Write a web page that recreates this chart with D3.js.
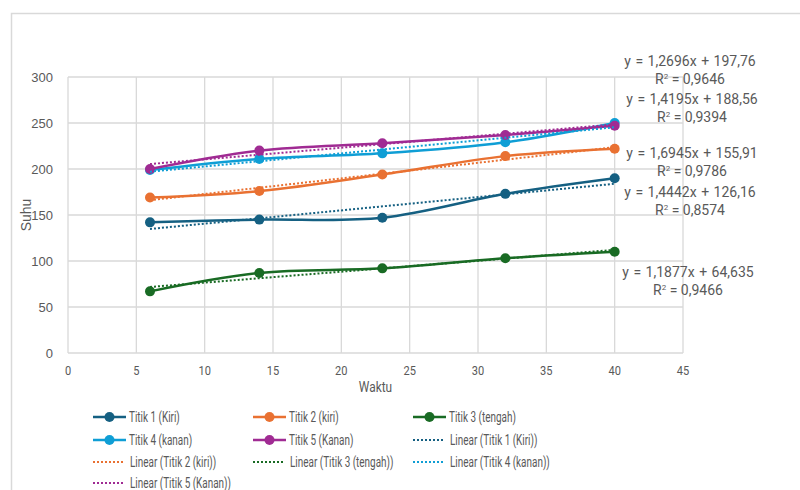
<!DOCTYPE html>
<html>
<head>
<meta charset="utf-8">
<script src="https://d3js.org/d3.v7.min.js"></script>
<style>
    body { margin: 0; background: #fff; }
    text { font-family: Roboto, "Liberation Sans", sans-serif; fill: #595959; }
    .arial { font-family: "Liberation Sans", Arial, sans-serif; }
</style>
</head>
<body>
<script>
    // data
    var waktu = [6, 14, 23, 32, 40];
    var titik1 = [142, 145, 147, 173, 190];
    var titik2 = [169, 176, 194, 214, 222];
    var titik3 = [67, 87, 92, 103, 110];
    var titik4 = [199, 211, 217, 229, 250];
    var titik5 = [200, 220, 228, 237, 247];

    var seriesNames = ["Titik 1 (Kiri)", "Titik 2 (kiri)", "Titik 3 (tengah)", "Titik 4 (kanan)", "Titik 5 (Kanan)"];
    var seriesColors = ["#156082", "#E97132", "#196B24", "#0F9ED5", "#A02B93"];
    // trendline equations as shown (slope, intercept, R2)
    var slopes = [1.4442, 1.6945, 1.1877, 1.4195, 1.2696];
    var intercepts = [126.16, 155.91, 64.635, 188.56, 197.76];
    var r2 = [0.8574, 0.9786, 0.9466, 0.9394, 0.9646];
    var xTicks = [0, 5, 10, 15, 20, 25, 30, 35, 40, 45];
    var yTicks = [0, 50, 100, 150, 200, 250, 300];

    var allValues = [titik1, titik2, titik3, titik4, titik5];

    var width = 800, height = 490;
    var svg = d3.select("body").append("svg")
        .attr("width", width)
        .attr("height", height);

    // the original font is narrower than anything installed, so squeeze text a bit
    function squeeze(sel, k) {
        sel.each(function () {
            var w = this.getComputedTextLength();
            d3.select(this).attr("textLength", w * k).attr("lengthAdjust", "spacingAndGlyphs");
        });
    }

    // chart border
    svg.append("rect")
        .attr("x", 11.5).attr("y", 13.5)
        .attr("width", 820).attr("height", 500)
        .attr("fill", "none")
        .attr("stroke", "#d9d9d9")
        .attr("stroke-width", 1.5);

    var x = d3.scaleLinear().domain([0, 45]).range([68, 683]);
    var y = d3.scaleLinear().domain([0, 300]).range([353, 77]);

    // gridlines
    svg.append("g").selectAll("line.h")
        .data(yTicks).enter().append("line")
        .attr("x1", x(0)).attr("x2", x(45))
        .attr("y1", function (d) { return y(d); })
        .attr("y2", function (d) { return y(d); })
        .attr("stroke", "#d9d9d9").attr("stroke-width", 1.3);
    svg.append("g").selectAll("line.v")
        .data(xTicks).enter().append("line")
        .attr("y1", y(0)).attr("y2", y(300))
        .attr("x1", function (d) { return x(d); })
        .attr("x2", function (d) { return x(d); })
        .attr("stroke", "#d9d9d9").attr("stroke-width", 1.3);

    // tick labels
    svg.append("g").selectAll("text")
        .data(yTicks).enter().append("text")
        .attr("class", "arial")
        .attr("x", 53).attr("y", function (d) { return y(d) + 5; })
        .attr("text-anchor", "end")
        .style("font-size", "13px")
        .text(function (d) { return d; });
    var xt = svg.append("g").selectAll("text")
        .data(xTicks).enter().append("text")
        .attr("x", function (d) { return x(d); }).attr("y", 375)
        .attr("text-anchor", "middle")
        .style("font-size", "13px")
        .text(function (d) { return d; });
    squeeze(xt, 0.85);

    var wk = svg.append("text")
        .attr("x", x(22.5)).attr("y", 392)
        .attr("text-anchor", "middle")
        .style("font-size", "14px")
        .text("Waktu");
    squeeze(wk, 0.85);
    svg.append("text")
        .attr("class", "arial")
        .attr("transform", "translate(31," + y(150) + ") rotate(-90)")
        .attr("text-anchor", "middle")
        .style("font-size", "14px")
        .text("Suhu");

    var line = d3.line()
        .x(function (d) { return x(d[0]); })
        .y(function (d) { return y(d[1]); })
        .curve(d3.curveCatmullRom.alpha(0.5));

    // series lines
    allValues.forEach(function (vals, i) {
        var pts = waktu.map(function (w, j) { return [w, vals[j]]; });
        svg.append("path")
            .datum(pts)
            .attr("d", line)
            .attr("fill", "none")
            .attr("stroke", seriesColors[i])
            .attr("stroke-width", 2.5);
        svg.append("g").selectAll("circle")
            .data(pts).enter().append("circle")
            .attr("cx", function (d) { return x(d[0]); })
            .attr("cy", function (d) { return y(d[1]); })
            .attr("r", 5)
            .attr("fill", seriesColors[i]);
    });

    // trendlines
    allValues.forEach(function (vals, i) {
        var x0 = d3.min(waktu), x1 = d3.max(waktu);
        svg.append("line")
            .attr("x1", x(x0)).attr("y1", y(slopes[i] * x0 + intercepts[i]))
            .attr("x2", x(x1)).attr("y2", y(slopes[i] * x1 + intercepts[i]))
            .attr("stroke", seriesColors[i])
            .attr("stroke-width", 2)
            .attr("stroke-dasharray", "2,2");
    });

    // equation labels
    var fmt = function (v) { return String(v).replace(".", ","); };
    var labelY = [215, 176, 295, 122, 84];
    var labelX = [690, 692, 688, 692, 690];
    allValues.forEach(function (vals, i) {
        var g = svg.append("g").attr("transform", "translate(" + labelX[i] + "," + labelY[i] + ")");
        g.append("text")
            .attr("text-anchor", "middle")
            .attr("y", -18)
            .style("font-size", "14px")
            .style("word-spacing", "1px")
            .text("y = " + fmt(slopes[i]) + "x + " + fmt(intercepts[i]));
        var t = g.append("text")
            .attr("text-anchor", "middle")
            .style("font-size", "14px");
        t.append("tspan").text("R");
        t.append("tspan").attr("dy", -5).style("font-size", "8px").text("2");
        t.append("tspan").attr("dy", 5).text(" = " + fmt(r2[i].toFixed(4)));
    });

    // legend
    var legendItems = [];
    seriesNames.forEach(function (n, i) { legendItems.push({ name: n, color: seriesColors[i], trend: false }); });
    seriesNames.forEach(function (n, i) { legendItems.push({ name: "Linear (" + n + ")", color: seriesColors[i], trend: true }); });

    var colX = [93, 253, 413];
    var rowY = [417, 440, 462, 483];
    var leg = svg.append("g").selectAll("g")
        .data(legendItems).enter().append("g")
        .attr("transform", function (d, i) {
            return "translate(" + colX[i % 3] + "," + rowY[Math.floor(i / 3)] + ")";
        });
    leg.append("line")
        .attr("x1", 0).attr("x2", function (d) { return d.trend ? 31 : 33; })
        .attr("stroke", function (d) { return d.color; })
        .attr("stroke-width", function (d) { return d.trend ? 2 : 2.5; })
        .attr("stroke-dasharray", function (d) { return d.trend ? "2,2" : null; });
    leg.filter(function (d) { return !d.trend; }).append("circle")
        .attr("cx", 16.5).attr("r", 5)
        .attr("fill", function (d) { return d.color; });
    var legText = leg.append("text")
        .attr("x", function (d) { return d.trend ? 37 : 36; })
        .attr("y", 5)
        .style("font-size", "14px")
        .text(function (d) { return d.name; });
    // longest legend label is about 101px wide in the original
    var longest = legText.filter(function (d) { return d.name === "Linear (Titik 5 (Kanan))"; }).node().getComputedTextLength();
    squeeze(legText, 101 / longest);
</script>
</body>
</html>
